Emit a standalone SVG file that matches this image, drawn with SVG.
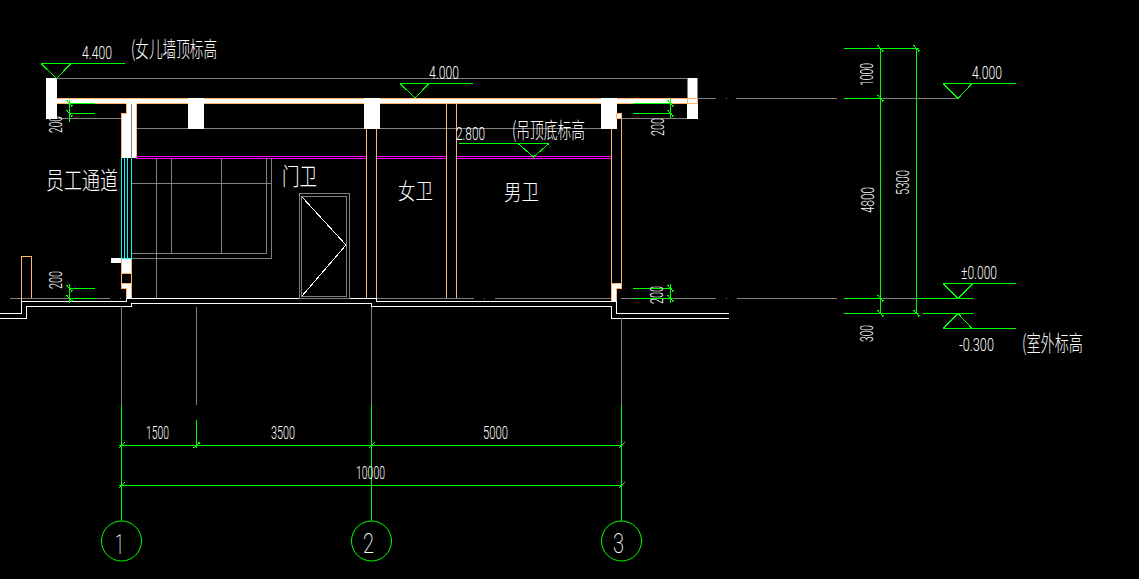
<svg xmlns="http://www.w3.org/2000/svg" xmlns:xlink="http://www.w3.org/1999/xlink" width="1139" height="579" viewBox="0 0 1139 579">
<defs>
<style>
path,rect{shape-rendering:crispEdges}
.g{stroke:#808080;stroke-width:1;fill:none}
.o{stroke:#ffb56e;stroke-width:1;fill:none}
.m{stroke:#ff00ff;stroke-width:1;fill:none}
.c{stroke:#00ffff;stroke-width:1;fill:none}
.w{stroke:#fff;stroke-width:1;fill:none}
.gr{stroke:#00ff00;stroke-width:1;fill:none}
.ga{stroke:#00ff00;stroke-width:1;fill:none;shape-rendering:auto}
.f{fill:#fff}
.t{fill:#fff;font-family:Roboto,"Liberation Sans","Noto Sans CJK SC",sans-serif;font-size:19px;font-weight:300}
.z{fill:#fff;font-family:"Noto Sans CJK SC","Liberation Sans",sans-serif;font-size:22px;font-weight:300}
.r{font-size:24px}
.a{font-size:27px;font-weight:200}
</style>
<path id="tk" class="gr" d="M-3 -3L3 3M-2 -3.500L-3 -2M2 3.500L3 2"/>
<path id="tb" class="gr" d="M-3 3L3 -3"/>
</defs>
<rect width="1139" height="579" fill="#000"/>

<g id="building">
<path class="g" d="M57 78.500H687M57 118.500H121M621 118.500H687M137 128.500H188M204 128.500H364M380 128.500H601"/>
<path class="g" d="M10 298.500H110M120 298.500H121M376 298.500H474M484 298.500H485M495 298.500H611M621 298.500H716M726 298.500H727M737 298.500H837M736 98.500H837M698 98.500H716M726 98.500H727"/>
<rect class="f" x="46" y="78" width="11" height="41"/>
<rect class="f" x="687" y="78" width="11" height="41"/>
<path class="g" d="M687.500 78V103M697.500 78V103"/>
<rect class="f" x="57" y="98" width="641" height="6"/>
<path class="o" d="M57 98.500H698M57 103.500H698M687.500 98.500V103.500M697.500 98.500V103.500"/>
<rect class="f" x="188" y="98" width="16" height="31"/>
<rect class="f" x="364" y="98" width="16" height="31"/>
<rect class="f" x="601" y="98" width="16" height="31"/>
<path class="f" d="M126 103H137V158H121V113H126Z"/>
<path class="o" d="M126.500 104V113.500H121.500V158M136.500 104V158"/>
<path class="g" d="M131.500 104V158"/>
<path class="m" d="M136 156.500H366M136 158.500H366M376 156.500H446M376 158.500H446M456 156.500H611M456 158.500H611"/>
<path class="c" d="M121.500 158V258.500M124.500 158V258.500M127.500 158V258.500M131.500 158V258.500M121 258.500H132"/>
<rect class="f" x="111" y="258" width="10" height="5"/>
<rect class="f" x="121" y="259" width="11" height="14"/>
<rect x="121.500" y="273.500" width="10" height="10" fill="#000" stroke="#ffb56e"/>
<path class="f" d="M121 284H132V298H126V288H121Z"/>
<path class="o" d="M121.500 259V273.500M131.500 259V298M121.500 283.500V288.500H126.500V298"/>
<path class="o" d="M21.500 301V256.500H31.500V298"/>
<path class="o" d="M366.500 129V298M376.500 129V298M446.500 104V298M456.500 104V298M611.500 129V283M621.500 118V283"/>
<rect x="616.500" y="113.500" width="5" height="5" class="f" stroke="#ffb56e"/>
<path class="f" d="M611 283H622V288H616V301H611Z"/>
<path class="o" d="M611.500 283V301M611.500 283.500H621.500V288.500H616.500V301"/>
<path class="g" d="M156.500 158V298M171.500 158V253M221.500 158V253M266.500 158V253M271.500 158V258M131.500 183.500H271.500M131.500 253.500H266.500M131.500 258.500H271.500"/>
<path class="w" d="M0 313.500H21.500V301.500H126.500V298.500H376.500V301.500H616.500V313.500H729"/>
<path class="w" d="M0 318.500H26.500V306.500H131.500V303.500H371.500V306.500H611.500V318.500H729"/>
<path class="g" d="M121.500 306V405M196.500 307V405M371.500 307V405M621.500 318V405"/>
</g>

<g id="door">
<rect class="g" x="299.500" y="193.500" width="50" height="105"/>
<rect class="g" x="301.500" y="196.500" width="45" height="100"/>
<path class="w" d="M302 197L346 245L302 296"/>
</g>

<g id="connectors">
<path class="gr" d="M121.500 405V521M371.500 405V521M621.500 405V521M196.500 420V448M119 445.500H622M119 485.500H622"/>
<use href="#tb" x="121.500" y="445.500"/><use href="#tk" x="196.500" y="445.500" transform="rotate(90 196.500 445.500)"/><use href="#tb" x="371.500" y="445.500"/><use href="#tb" x="621.500" y="445.500"/><use href="#tb" x="121.500" y="485.500"/><use href="#tb" x="621.500" y="485.500"/>
<path class="gr" d="M69.500 100V122M69 103.500H95M69 113.500H95M69.500 284V303M69 288.500H95M69 298.500H95M670.500 99V118M633 103.500H672M633 113.500H672M670.500 284V303M633 288.500H672M633 298.500H672"/>
<use href="#tk" x="69.500" y="103.500"/><use href="#tk" x="69.500" y="113.500"/><use href="#tk" x="69.500" y="288.500"/><use href="#tk" x="69.500" y="298.500"/><use href="#tk" x="670.500" y="103.500"/><use href="#tk" x="670.500" y="113.500"/><use href="#tk" x="670.500" y="288.500"/><use href="#tk" x="670.500" y="298.500"/>
<path class="gr" d="M880.500 48V313M916.500 48V313M844 48.500H919M844 98.500H881M844 298.500H881M844 313.500H919M923 313.500H973M917 298.500H973"/>
<path class="g" d="M881 98.500H958M881 298.500H917"/>
<use href="#tk" x="880.500" y="48.500"/><use href="#tk" x="916.500" y="48.500"/><use href="#tk" x="880.500" y="98.500"/><use href="#tk" x="880.500" y="298.500"/><use href="#tk" x="880.500" y="313.500"/><use href="#tk" x="916.500" y="313.500"/>
</g>

<g id="level-4400">
<path class="gr" d="M41 63.500H125M41 63.500L56.500 78.500L71 63.500"/>
<text class="t" x="82" y="59" textLength="30" lengthAdjust="spacingAndGlyphs">4.400</text>
<text class="z" x="131" y="57" textLength="86" lengthAdjust="spacingAndGlyphs">(女儿墙顶标高</text>
</g>
<g id="level-4000">
<path class="gr" d="M400 83.500H473M400 83.500L415 98L429 83.500"/>
<text class="t" x="429" y="79" textLength="30" lengthAdjust="spacingAndGlyphs">4.000</text>
</g>
<g id="level-2800">
<path class="gr" d="M459 143.500H549M518 143.500L533.500 157L549 143.500"/>
<text class="t" x="456" y="140" textLength="29" lengthAdjust="spacingAndGlyphs">2.800</text>
<text class="z" x="512" y="138" textLength="73" lengthAdjust="spacingAndGlyphs">(吊顶底标高</text>
</g>
<g id="level-right-4000">
<path class="gr" d="M943 83.500H1016M943 83.500L958 98.500L972 83.500"/>
<text class="t" x="972" y="79" textLength="30" lengthAdjust="spacingAndGlyphs">4.000</text>
</g>
<g id="level-right-0">
<path class="gr" d="M943 283.500H1016M943 283.500L958 298.500L973 283.500"/>
<text class="t" x="961" y="279" textLength="36" lengthAdjust="spacingAndGlyphs">±0.000</text>
</g>
<g id="level-right-0300">
<path class="gr" d="M943 328.500H1016M943 328.500L958 313.500L972 328.500"/>
<text class="t" x="959" y="351" textLength="35" lengthAdjust="spacingAndGlyphs">-0.300</text>
<text class="z" x="1022" y="351" textLength="61" lengthAdjust="spacingAndGlyphs">(室外标高</text>
</g>

<g id="dim-labels">
<text class="t" transform="translate(62 133) rotate(-90)" textLength="17" lengthAdjust="spacingAndGlyphs">200</text>
<text class="t" transform="translate(62 289) rotate(-90)" textLength="18" lengthAdjust="spacingAndGlyphs">200</text>
<text class="t" transform="translate(664 136) rotate(-90)" textLength="18" lengthAdjust="spacingAndGlyphs">200</text>
<text class="t" transform="translate(663 304) rotate(-90)" textLength="18" lengthAdjust="spacingAndGlyphs">200</text>
<text class="t" transform="translate(873 86) rotate(-90)" textLength="23" lengthAdjust="spacingAndGlyphs">1000</text>
<text class="t" transform="translate(874 213) rotate(-90)" textLength="26" lengthAdjust="spacingAndGlyphs">4800</text>
<text class="t" transform="translate(909 195) rotate(-90)" textLength="25" lengthAdjust="spacingAndGlyphs">5300</text>
<text class="t" transform="translate(873 342) rotate(-90)" textLength="17" lengthAdjust="spacingAndGlyphs">300</text>
<text class="t" x="146" y="439" textLength="23" lengthAdjust="spacingAndGlyphs">1500</text>
<text class="t" x="271" y="439" textLength="24" lengthAdjust="spacingAndGlyphs">3500</text>
<text class="t" x="483" y="439" textLength="25" lengthAdjust="spacingAndGlyphs">5000</text>
<text class="t" x="356" y="479" textLength="29" lengthAdjust="spacingAndGlyphs">10000</text>
</g>

<g id="room-staff-passage"><text class="z r" x="46" y="189" textLength="72" lengthAdjust="spacingAndGlyphs">员工通道</text></g>
<g id="room-guard"><text class="z r" x="282" y="185" textLength="35" lengthAdjust="spacingAndGlyphs">门卫</text></g>
<g id="room-women"><text class="z" x="398" y="199" textLength="35" lengthAdjust="spacingAndGlyphs">女卫</text></g>
<g id="room-men"><text class="z" x="504" y="200" textLength="35" lengthAdjust="spacingAndGlyphs">男卫</text></g>

<g id="axis-1"><circle class="ga" cx="121.500" cy="541" r="20"/><text class="t a" x="115" y="554" textLength="9" lengthAdjust="spacingAndGlyphs">1</text></g>
<g id="axis-2"><circle class="ga" cx="371.500" cy="541" r="20"/><text class="t a" x="363" y="553" textLength="11" lengthAdjust="spacingAndGlyphs">2</text></g>
<g id="axis-3"><circle class="ga" cx="621.500" cy="541" r="20"/><text class="t a" x="613" y="553" textLength="11" lengthAdjust="spacingAndGlyphs">3</text></g>
</svg>
